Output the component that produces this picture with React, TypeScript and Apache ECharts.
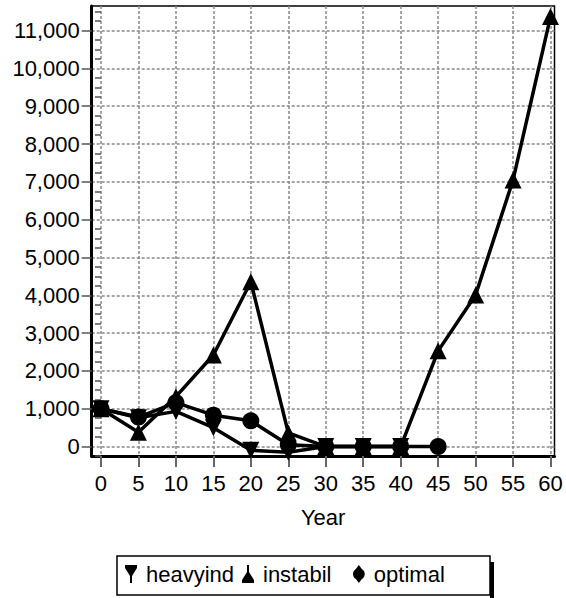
import React, { useEffect, useRef } from "react";
import * as echarts from "echarts";

const years = [0, 5, 10, 15, 20, 25, 30, 35, 40, 45, 50, 55, 60];
const heavyind = [1000, 760, 930, 500, -100, -150, 0, 0, 0];
const instabil = [1000, 380, 1320, 2420, 4360, 360, 0, 0, 0, 2530, 4010, 7050, 11370];
const optimal = [1000, 780, 1160, 830, 680, 50, 0, 0, 0, 0];

const xTicks = [0, 5, 10, 15, 20, 25, 30, 35, 40, 45, 50, 55, 60];
const yTicks = [0, 1000, 2000, 3000, 4000, 5000, 6000, 7000, 8000, 9000, 10000, 11000];
const yMinorTicks = [
  -250, 250, 500, 750, 1250, 1500, 1750, 2250, 2500, 2750, 3250, 3500, 3750,
  4250, 4500, 4750, 5250, 5500, 5750, 6250, 6500, 6750, 7250, 7500, 7750,
  8250, 8500, 8750, 9250, 9500, 9750, 10250, 10500, 10750, 11250, 11500,
];

const FONT = "'Liberation Sans', Arial, Helvetica, sans-serif";
const FS = 22;

const ICON_HEAVY = "path://M0,0 L12,0 L12,3 L7,11 L7,18 L5,18 L5,11 L0,3 Z";
const ICON_INST = "path://M5,0 L7,0 L7,7 L12,15 L12,18 L0,18 L0,15 L5,7 Z";
const ICON_OPT = "path://M6,0 L9,4 A5.8,5.8 0 0 1 9,14 L6,18 L3,14 A5.8,5.8 0 0 1 3,4 Z";

function pairs(vals: number[]) {
  return vals.map((v, i) => [years[i], v]);
}

export default function App() {
  const ref = useRef<HTMLDivElement>(null);
  useEffect(() => {
    if (!ref.current) return;
    const chart = echarts.init(ref.current, null, { renderer: "svg" });
    const lineSeries = (name: string, vals: number[], symbol: string, rotate = 0) => ({
      name,
      type: "line",
      data: pairs(vals),
      symbol,
      symbolRotate: rotate,
      symbolSize: 17,
      clip: false,
      itemStyle: { color: "#000" },
      lineStyle: { color: "#000", width: 3.5 },
    });
    const legendBase = {
      top: 563,
      itemWidth: 20,
      itemHeight: 18,
      textStyle: { fontFamily: FONT, fontSize: FS, color: "#000" },
      selectedMode: false,
      padding: 0,
    };
    chart.setOption({
      animation: false,
      backgroundColor: "#fff",
      grid: {
        left: 91.7,
        right: 11.5,
        top: 6,
        bottom: 142,
        show: true,
        borderColor: "#000",
        borderWidth: 1.5,
        backgroundColor: "transparent",
      },
      xAxis: {
        type: "value",
        min: -1.24,
        max: 60.53,
        name: "Year",
        nameLocation: "middle",
        nameGap: 50,
        nameTextStyle: { fontFamily: FONT, fontSize: FS, color: "#000" },
        axisLine: { show: true, onZero: false, lineStyle: { color: "#000", width: 3 } },
        axisTick: { show: true, length: 11, customValues: xTicks, lineStyle: { color: "#666", width: 2 } },
        axisLabel: { customValues: xTicks, margin: 16, fontFamily: FONT, fontSize: FS, color: "#000" },
        splitLine: { show: true, lineStyle: { color: "#888", width: 1.5, type: [3, 2] } },
      },
      yAxis: [
        {
          type: "value",
          min: -250,
          max: 11650,
          position: "left",
          axisLine: { show: true, onZero: false, lineStyle: { color: "#000", width: 3 } },
          axisTick: { show: true, length: 10, customValues: yTicks, lineStyle: { color: "#555", width: 1.5 } },
          axisLabel: {
            customValues: yTicks,
            margin: 12,
            fontFamily: FONT,
            fontSize: FS,
            color: "#000",
            formatter: (v: number) => v.toLocaleString("en-US"),
          },
          splitLine: { show: true, lineStyle: { color: "#888", width: 1.5, type: [3, 2] } },
        },
        {
          type: "value",
          min: -250,
          max: 11650,
          position: "left",
          offset: 0,
          axisLine: { show: false },
          axisTick: { show: true, length: 6, customValues: yMinorTicks, lineStyle: { color: "#555", width: 1.5 } },
          axisLabel: { show: false },
          splitLine: { show: false },
        },
      ],
      legend: [
        { ...legendBase, left: 125, data: [{ name: "heavyind", icon: ICON_HEAVY }] },
        { ...legendBase, left: 242, data: [{ name: "instabil", icon: ICON_INST }] },
        { ...legendBase, left: 353, data: [{ name: "optimal", icon: ICON_OPT }] },
      ],
      graphic: [
        {
          type: "rect",
          shape: { x: 117, y: 556, width: 373, height: 39 },
          style: { fill: "none", stroke: "#000", lineWidth: 1.5 },
          z: 0,
        },
        {
          type: "rect",
          shape: { x: 490, y: 562, width: 4, height: 36 },
          style: { fill: "#000" },
          z: 0,
        },
      ],
      series: [
        lineSeries("heavyind", heavyind, "triangle", 180),
        lineSeries("instabil", instabil, "triangle"),
        lineSeries("optimal", optimal, "circle"),
      ],
    });
    return () => chart.dispose();
  }, []);
  return (
    <div
      ref={ref}
      style={{ position: "fixed", left: 0, top: 0, width: 566, height: 598 }}
    />
  );
}
